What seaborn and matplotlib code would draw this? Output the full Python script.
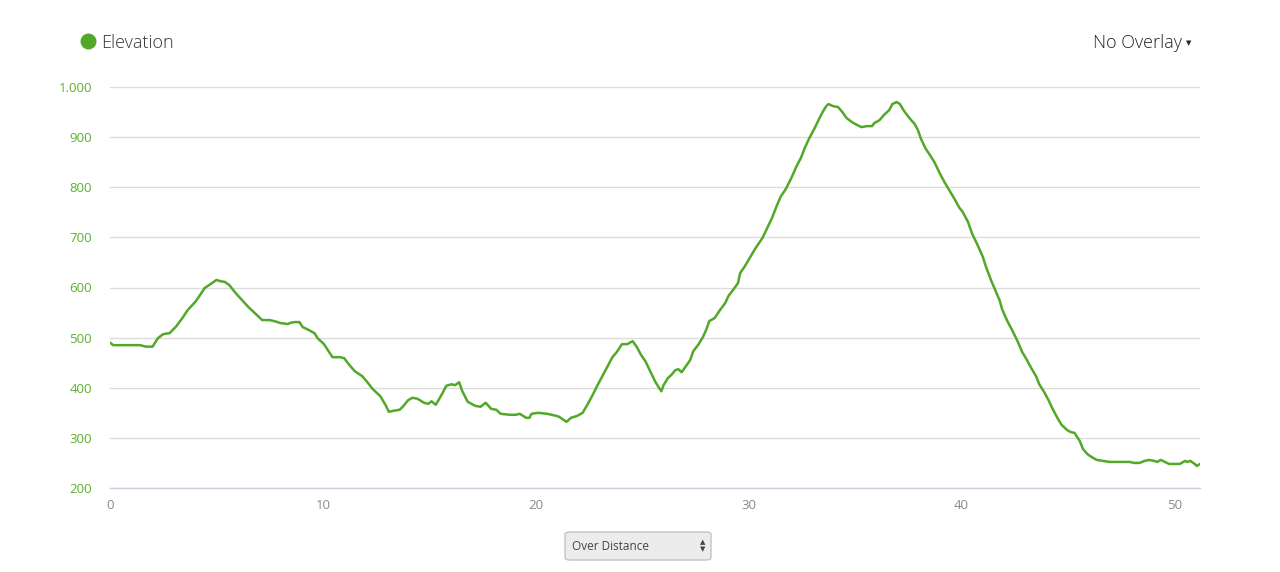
import numpy as np
import pandas as pd
import seaborn as sns
import matplotlib.pyplot as plt
from matplotlib.patches import FancyBboxPatch
from matplotlib.lines import Line2D

# Elevation profile (km, m)
distance_km = [
    0.0, 0.15, 0.5, 1.0, 1.4, 1.7, 2.0, 2.25, 2.5, 2.8, 3.1, 3.4, 3.65, 4.0, 4.2,
    4.45, 4.8, 5.0, 5.15, 5.4, 5.6, 5.9, 6.2, 6.5, 6.75, 7.0, 7.15, 7.5, 7.8, 8.0,
    8.2, 8.35, 8.5, 8.7, 8.9, 9.05, 9.3, 9.6, 9.75, 10.05, 10.25, 10.45, 10.8, 11.0,
    11.25, 11.5, 11.85, 12.05, 12.35, 12.7, 12.95, 13.1, 13.3, 13.6, 13.75, 14.0,
    14.2, 14.45, 14.75, 14.95, 15.1, 15.3, 15.55, 15.8, 16.05, 16.2, 16.4, 16.55,
    16.8, 17.15, 17.4, 17.65, 17.9, 18.15, 18.35, 18.8, 19.05, 19.25, 19.55, 19.7,
    19.8, 20.1, 20.55, 20.95, 21.1, 21.3, 21.45, 21.65, 21.95, 22.2, 22.45, 22.7,
    22.9, 23.1, 23.4, 23.6, 23.8, 24.05, 24.3, 24.55, 24.75, 24.95, 25.15, 25.35,
    25.6, 25.8, 25.9, 26.0, 26.2, 26.4, 26.55, 26.7, 26.85, 27.05, 27.25, 27.4,
    27.65, 27.85, 28.0, 28.15, 28.4, 28.65, 28.9, 29.05, 29.3, 29.5, 29.6, 29.8,
    30.05, 30.3, 30.65, 30.9, 31.1, 31.3, 31.5, 31.75, 32.0, 32.25, 32.45, 32.65,
    32.85, 33.1, 33.35, 33.5, 33.65, 33.75, 33.95, 34.2, 34.4, 34.6, 34.85, 35.1,
    35.3, 35.55, 35.8, 35.9, 36.15, 36.35, 36.6, 36.75, 36.95, 37.1, 37.3, 37.55,
    37.8, 37.95, 38.1, 38.3, 38.55, 38.75, 38.95, 39.2, 39.45, 39.65, 39.9, 40.05,
    40.3, 40.5, 40.75, 41.0, 41.15, 41.4, 41.6, 41.8, 41.9, 42.15, 42.4, 42.65,
    42.85, 43.05, 43.25, 43.5, 43.65, 43.9, 44.1, 44.25, 44.5, 44.7, 44.95, 45.1,
    45.3, 45.55, 45.7, 45.9, 46.1, 46.35, 46.65, 46.95, 47.4, 47.9, 48.1, 48.35,
    48.6, 48.8, 49.05, 49.2, 49.35, 49.55, 49.75, 50.0, 50.25, 50.5, 50.6, 50.75,
    50.95, 51.05, 51.2,
]
elevation_m = [
    490, 485, 485, 485, 485, 482, 482, 499, 507, 509, 522, 539, 555, 571, 583,
    599, 609, 615, 613, 611, 605, 589, 575, 561, 551, 541, 535, 535, 532, 529,
    528, 527, 530, 531, 531, 521, 516, 509, 499, 487, 474, 461, 461, 459,
    445, 433, 423, 413, 397, 383, 365, 352, 354, 356, 362, 375,
    380, 378, 370, 368, 373, 366, 384, 404, 407, 405, 411, 393,
    372, 364, 362, 370, 358, 356, 348, 346, 346, 348, 340, 340,
    348, 350, 348, 344, 342, 336, 332, 340, 344, 350, 368, 388,
    405, 421, 445, 461, 471, 487, 487, 493, 481, 465, 453, 435,
    413, 399, 393, 405, 419, 427, 435, 437, 431, 443, 455, 473,
    487, 501, 515, 533, 539, 555, 569, 583, 597, 609, 629, 641,
    659, 677, 699, 721, 739, 761, 781, 797, 818, 842, 858, 880,
    898, 918, 940, 952, 962, 966, 962, 960, 950, 938, 930, 924,
    920, 922, 922, 928, 934, 944, 954, 966, 970, 966, 952, 938,
    926, 914, 896, 878, 862, 848, 830, 810, 792, 778, 759, 751,
    731, 707, 685, 661, 641, 613, 593, 573, 557, 533, 513, 491,
    471, 457, 441, 423, 407, 390, 374, 360, 340, 326, 316, 312,
    310, 294, 278, 268, 262, 256, 254, 252, 252, 252, 250, 250,
    254, 256, 254, 252, 256, 252, 248, 248, 248, 254, 252, 254,
    248, 244, 248,
]
y_ticks = [200, 300, 400, 500, 600, 700, 800, 900, 1000]
y_tick_labels = ["200", "300", "400", "500", "600", "700", "800", "900", "1.000"]
x_ticks = [0, 10, 20, 30, 40, 50]

df = pd.DataFrame({"distance": distance_km, "elevation": elevation_m})

sns.set_style("white")
plt.rcParams["font.family"] = ["Open Sans", "DejaVu Sans"]

green = "#52a828"
fig = plt.figure(figsize=(12.8, 5.72), dpi=100)
ax = fig.add_axes([110 / 1280, 1 - 488 / 572, 1090 / 1280, 401 / 572])

sns.lineplot(data=df, x="distance", y="elevation", ax=ax, color=green, linewidth=1.8)

ax.set_xlim(0, 51.2)
ax.set_ylim(200, 1000)
ax.set_yticks(y_ticks)
ax.set_yticklabels(y_tick_labels)
ax.set_xticks(x_ticks)
ax.grid(axis="y", color="#dcdcdc", linewidth=1)
ax.set_axisbelow(True)
ax.set_xlabel("")
ax.set_ylabel("")
for side in ["top", "left", "right"]:
    ax.spines[side].set_visible(False)
ax.spines["bottom"].set_color("#c8d2dc")
ax.spines["bottom"].set_linewidth(1)
ax.tick_params(axis="y", length=0, pad=13, labelsize=9.5, labelcolor="#5cb030")
ax.tick_params(axis="x", length=0, pad=8, labelsize=9.5, labelcolor="#8a8a8a")

# header: legend dot + title, overlay selector
fig.add_artist(Line2D([88 / 1280], [1 - 41 / 572], transform=fig.transFigure,
                      marker="o", markersize=11.5, color=green, mec="none", ls="none"))
fig.text(101 / 1280, 1 - 43 / 572, "Elevation", fontsize=13, color="#333333",
         va="center", ha="left", fontweight="light")
fig.text(1182 / 1280, 1 - 43 / 572, "No Overlay", fontsize=13, color="#222222",
         va="center", ha="right", fontweight="light")
fig.text(1189 / 1280, 1 - 43 / 572, "▼", fontsize=5, color="#222222",
         va="center", ha="center", family="DejaVu Sans")

# bottom dropdown
box = FancyBboxPatch((565 / 1280, 1 - 560 / 572), 146 / 1280, 28 / 572,
                     boxstyle="round,pad=0,rounding_size=0.004",
                     transform=fig.transFigure, fc="#ececec", ec="#c4c4c4", lw=1)
fig.add_artist(box)
fig.text(572 / 1280, 1 - 546 / 572, "Over Distance", fontsize=8.5, color="#444444",
         va="center", ha="left")
fig.text(703 / 1280, 1 - 542 / 572, "▲", fontsize=5, color="#444444",
         va="center", ha="center", family="DejaVu Sans")
fig.text(703 / 1280, 1 - 549 / 572, "▼", fontsize=5, color="#444444",
         va="center", ha="center", family="DejaVu Sans")

fig.savefig("out.png", dpi=100)
